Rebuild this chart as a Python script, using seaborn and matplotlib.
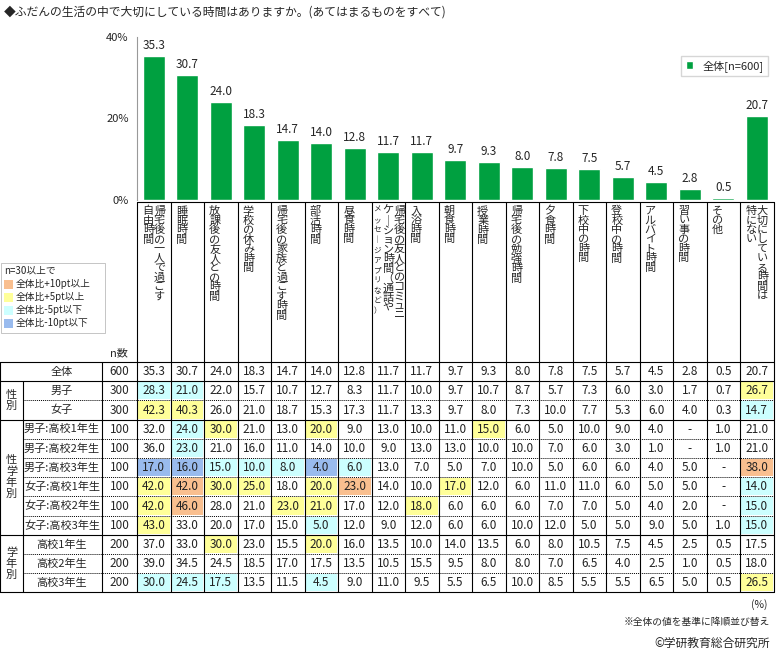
import numpy as np
import pandas as pd
import matplotlib
matplotlib.use("Agg")
import matplotlib.pyplot as plt
import seaborn as sns
from matplotlib.patches import Rectangle

sns.set_style("white")
plt.rcParams['font.family'] = ['Noto Sans CJK JP', 'DejaVu Sans']

labels = [["帰宅後の一人で過ごす", "自由時間"], ["睡眠時間"], ["放課後の友人との時間"], ["学校の休み時間"],
          ["帰宅後の家族と過ごす時間"], ["部活時間"], ["昼食時間"],
          ["帰宅後の友人とのコミュニ", "ケーション時間（通話や", "メッセージアプリなど）"],
          ["入浴時間"], ["朝食時間"], ["授業時間"], ["帰宅後の勉強時間"], ["夕食時間"], ["下校中の時間"],
          ["登校中の時間"], ["アルバイト時間"], ["習い事の時間"], ["その他"], ["大切にしている時間は", "特にない"]]
overall = [35.3, 30.7, 24.0, 18.3, 14.7, 14.0, 12.8, 11.7, 11.7, 9.7, 9.3, 8.0, 7.8, 7.5, 5.7, 4.5, 2.8, 0.5, 20.7]

row_names = ["男子", "女子", "男子:高校1年生", "男子:高校2年生", "男子:高校3年生", "女子:高校1年生",
             "女子:高校2年生", "女子:高校3年生", "高校1年生", "高校2年生", "高校3年生"]
row_n = [300, 300, 100, 100, 100, 100, 100, 100, 200, 200, 200]
N = None
rows = [
    [28.3, 21.0, 22.0, 15.7, 10.7, 12.7, 8.3, 11.7, 10.0, 9.7, 10.7, 8.7, 5.7, 7.3, 6.0, 3.0, 1.7, 0.7, 26.7],
    [42.3, 40.3, 26.0, 21.0, 18.7, 15.3, 17.3, 11.7, 13.3, 9.7, 8.0, 7.3, 10.0, 7.7, 5.3, 6.0, 4.0, 0.3, 14.7],
    [32.0, 24.0, 30.0, 21.0, 13.0, 20.0, 9.0, 13.0, 10.0, 11.0, 15.0, 6.0, 5.0, 10.0, 9.0, 4.0, N, 1.0, 21.0],
    [36.0, 23.0, 21.0, 16.0, 11.0, 14.0, 10.0, 9.0, 13.0, 13.0, 10.0, 10.0, 7.0, 6.0, 3.0, 1.0, N, 1.0, 21.0],
    [17.0, 16.0, 15.0, 10.0, 8.0, 4.0, 6.0, 13.0, 7.0, 5.0, 7.0, 10.0, 5.0, 6.0, 6.0, 4.0, 5.0, N, 38.0],
    [42.0, 42.0, 30.0, 25.0, 18.0, 20.0, 23.0, 14.0, 10.0, 17.0, 12.0, 6.0, 11.0, 11.0, 6.0, 5.0, 5.0, N, 14.0],
    [42.0, 46.0, 28.0, 21.0, 23.0, 21.0, 17.0, 12.0, 18.0, 6.0, 6.0, 6.0, 7.0, 7.0, 5.0, 4.0, 2.0, N, 15.0],
    [43.0, 33.0, 20.0, 17.0, 15.0, 5.0, 12.0, 9.0, 12.0, 6.0, 6.0, 10.0, 12.0, 5.0, 5.0, 9.0, 5.0, 1.0, 15.0],
    [37.0, 33.0, 30.0, 23.0, 15.5, 20.0, 16.0, 13.5, 10.0, 14.0, 13.5, 6.0, 8.0, 10.5, 7.5, 4.5, 2.5, 0.5, 17.5],
    [39.0, 34.5, 24.5, 18.5, 17.0, 17.5, 13.5, 10.5, 15.5, 9.5, 8.0, 8.0, 7.0, 6.5, 4.0, 2.5, 1.0, 0.5, 18.0],
    [30.0, 24.5, 17.5, 13.5, 11.5, 4.5, 9.0, 11.0, 9.5, 5.5, 6.5, 10.0, 8.5, 5.5, 5.5, 6.5, 5.0, 0.5, 26.5],
]
groups = [("性\n別", 1, 2), ("性\n学\n年\n別", 3, 8), ("学\n年\n別", 9, 11)]

GREEN = "#00A040"
C_P10, C_P5, C_M5, C_M10 = "#F9BF8F", "#FFFF99", "#CCFFFF", "#99BBEE"

W, H = 780, 659
fig = plt.figure(figsize=(W / 100, H / 100), dpi=100)
X0, CW = 137, 33.5
ncol = len(overall)

# bar chart
ax = fig.add_axes([X0 / W, (H - 200) / H, ncol * CW / W, 163 / H])
df = pd.DataFrame({"item": [str(i) for i in range(ncol)], "val": overall})
sns.barplot(data=df, x="item", y="val", color=GREEN, width=0.65, ax=ax, label="全体[n=600]", saturation=1)
ax.set_ylim(0, 40)
ax.set_xlim(-0.5, ncol - 0.5)
ax.set_yticks([0, 20, 40])
ax.set_yticklabels(["0%", "20%", "40%"], fontsize=8)
ax.set_xticks([])
ax.set_xlabel("")
ax.set_ylabel("")
for s in ["top", "right", "bottom"]:
    ax.spines[s].set_visible(False)
ax.spines["left"].set_color("#999999")
ax.tick_params(axis="y", length=0, pad=6)
for i, v in enumerate(overall):
    ax.text(i, v + 1, f"{v:.1f}", ha="center", va="bottom", fontsize=8.5)
ax.legend(loc="upper right", frameon=True, fontsize=8, handlelength=0.7, handleheight=0.7,
          borderpad=0.4, fancybox=False, edgecolor="#cccccc", bbox_to_anchor=(1.0, 0.92))

# table area in pixel coords
t = fig.add_axes([0, 0, 1, 1])
t.set_xlim(0, W)
t.set_ylim(H, 0)
t.axis("off")
fig.text(4 / W, 1 - 12 / H, "◆ふだんの生活の中で大切にしている時間はありますか。(あてはまるものをすべて)", fontsize=8.5, va="center")

TOP, HDR, RH = 202, 362, 19.2
XE = X0 + ncol * CW
lw = 0.8
# column label area
t.plot([X0, XE], [TOP, TOP], color="black", lw=lw)
for j in range(ncol + 1):
    t.plot([X0 + j * CW] * 2, [TOP, HDR + 12 * RH], color="black", lw=lw)
for j, lab in enumerate(labels):
    for k, part in enumerate(lab):
        s = "\n".join(part.replace("ー", "｜"))
        fs = 5.5 if k == 2 else 8
        ls = 1.35 if k == 2 else 0.93
        xx = X0 + j * CW + CW * 0.5 + (len(lab) - 1) * 5.5 - k * 11
        if len(lab) == 1:
            xx = X0 + j * CW + CW * 0.5 - 6
        t.text(xx, TOP + 4, s, ha="center", va="top", fontsize=fs, linespacing=ls)

# rows
all_rows = [("全体", 600, overall)] + list(zip(row_names, row_n, rows))
for r, (name, n, vals) in enumerate(all_rows):
    y0 = HDR + r * RH
    yc = y0 + RH / 2
    for j, v in enumerate(vals):
        if r > 0 and v is not None:
            d = v - overall[j]
            c = C_P10 if d >= 10 else C_P5 if d >= 5 else C_M10 if d <= -10 else C_M5 if d <= -5 else None
            if c:
                t.add_patch(Rectangle((X0 + j * CW + 1, y0 + 1), CW - 2, RH - 2, color=c, lw=0))
        t.text(X0 + j * CW + CW / 2, yc, "-" if v is None else f"{v:.1f}", ha="center", va="center", fontsize=8.5, color="#222222")
    t.text(119.5, yc, str(n), ha="center", va="center", fontsize=8.5)
    t.text(62, yc, name, ha="center", va="center", fontsize=8)

solid = [0, 1, 3, 9, 12]
for r in range(13):
    y = HDR + r * RH
    if r in solid:
        t.plot([0, XE], [y, y], color="black", lw=lw)
    else:
        t.plot([23, XE], [y, y], color="black", lw=0.7, ls=(0, (1, 1)))
t.plot([0, 0], [HDR, HDR + 12 * RH], color="black", lw=lw)
t.plot([102, 102], [HDR, HDR + 12 * RH], color="black", lw=lw)
t.plot([23, 23], [HDR + RH, HDR + 12 * RH], color="black", lw=lw)
for g, a, b in groups:
    t.text(11.5, HDR + (a - 1 + (b - a + 1) / 2) * RH + RH, g, ha="center", va="center", fontsize=8, linespacing=1.1)
t.text(119, 353, "n数", ha="center", va="center", fontsize=8)

# color legend
t.text(4, 271, "n=30以上で", fontsize=7, va="center")
for i, (c, s) in enumerate([(C_P10, "全体比+10pt以上"), (C_P5, "全体比+5pt以上"),
                            (C_M5, "全体比-5pt以下"), (C_M10, "全体比-10pt以下")]):
    yy = 284 + i * 13
    t.add_patch(Rectangle((4, yy - 4.5), 9, 9, color=c, lw=0))
    t.text(16, yy, s, fontsize=7, va="center")
t.add_patch(Rectangle((1, 263), 104, 70, fill=False, ec="#bbbbbb", lw=0.6))

t.text(768, 605, "(%)", ha="right", va="center", fontsize=7.5)
t.text(770, 622, "※全体の値を基準に降順並び替え", ha="right", va="center", fontsize=7)
t.text(770, 643, "©学研教育総合研究所", ha="right", va="center", fontsize=8.5)

fig.savefig("out.png", dpi=100)
